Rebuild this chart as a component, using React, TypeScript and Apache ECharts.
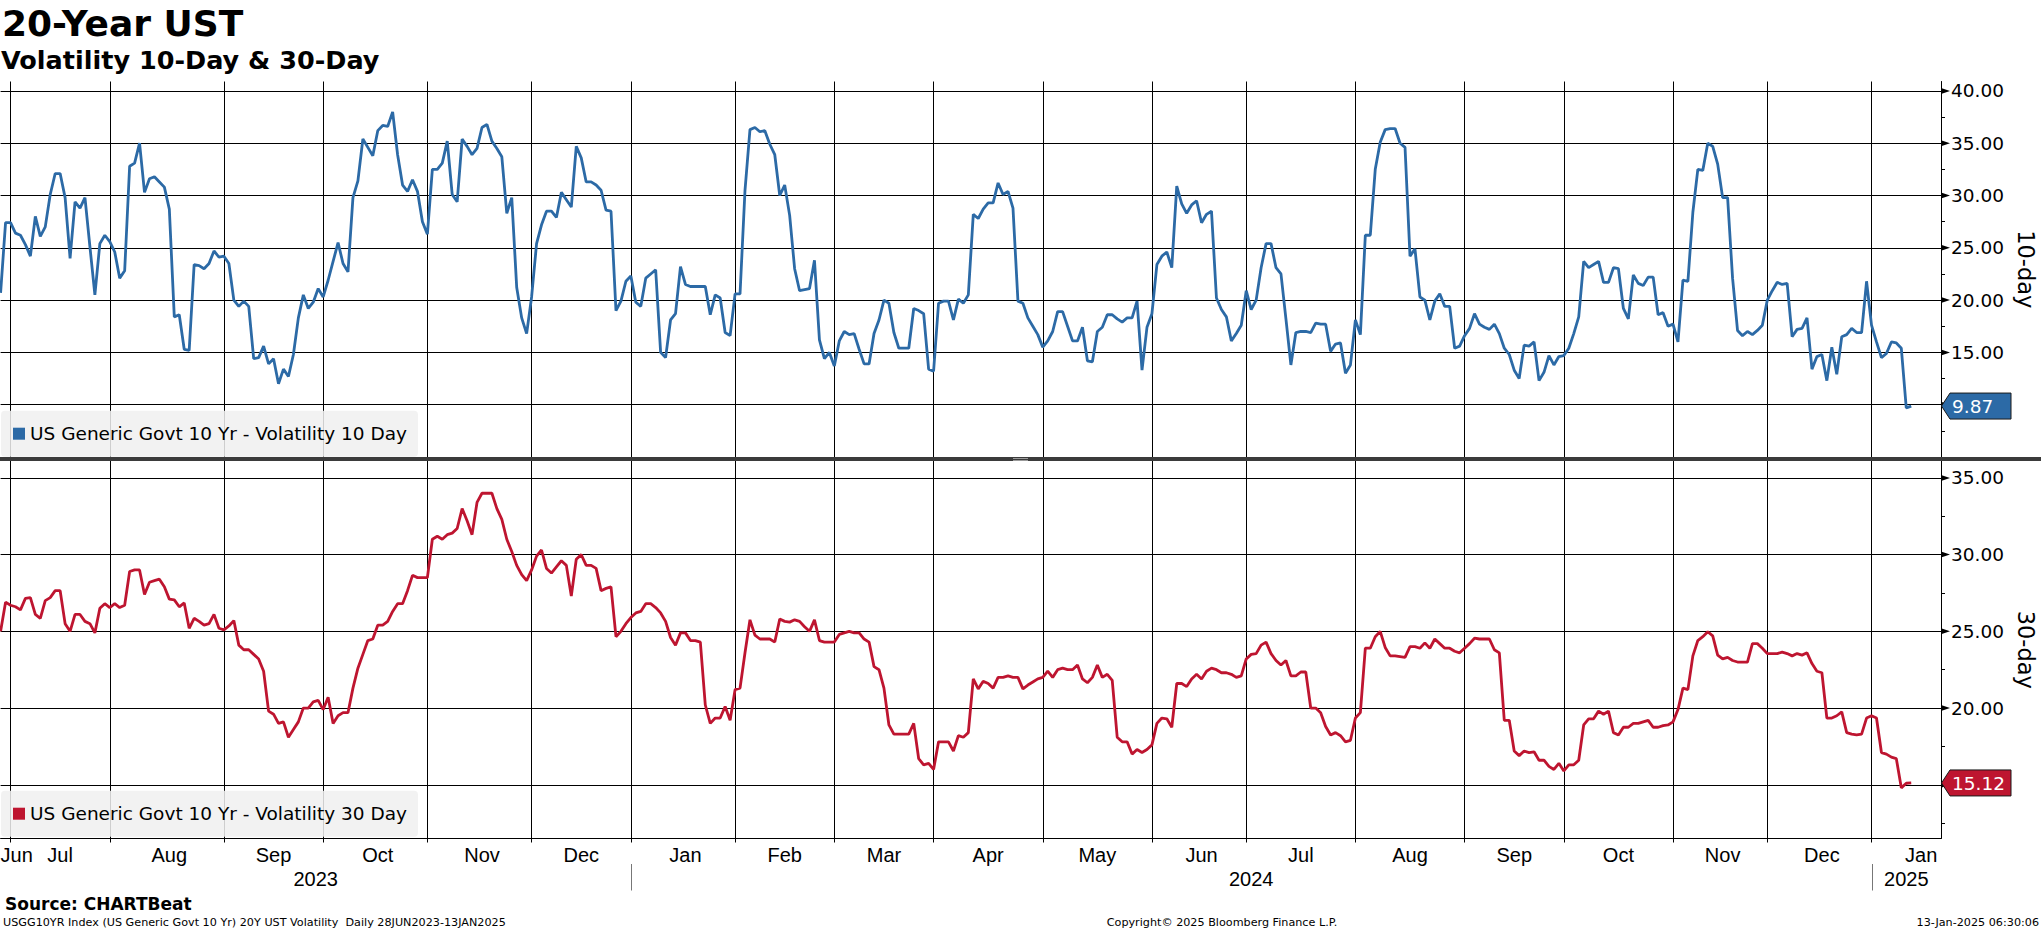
import React, { useEffect, useRef } from "react";
import * as echarts from "echarts";

const NAME_10 = "US Generic Govt 10 Yr - Volatility 10 Day";
const NAME_30 = "US Generic Govt 10 Yr - Volatility 30 Day";
const START_DATE = "2023-06-28";
const END_DATE = "2025-01-13";
const BOND_HOLIDAYS = [
  "2023-07-04", "2023-09-04", "2023-10-09", "2023-11-23", "2023-12-25",
  "2024-01-01", "2024-01-15", "2024-02-19", "2024-03-29", "2024-05-27",
  "2024-06-19", "2024-07-04", "2024-09-02", "2024-10-14", "2024-11-11",
  "2024-11-28", "2024-12-25", "2025-01-01", "2025-01-20",
];
const EMPTY_DAYS_AFTER_END = 6;
const MONTH_NAMES = ["Jan", "Feb", "Mar", "Apr", "May", "Jun", "Jul", "Aug", "Sep", "Oct", "Nov", "Dec"];
const Y10_MAJOR_TICKS = [10, 15, 20, 25, 30, 35, 40];
const Y30_MAJOR_TICKS = [15, 20, 25, 30, 35];

// 10-day volatility, one value per trading day from 28-Jun-2023
const VOL_10DAY = [
  20.7, 27.4, 27.4, 26.4, 26.2, 25.3, 24.2, 28.0, 26.1, 27.0,
  30.1, 32.1, 32.1, 29.8, 24.0, 29.4, 28.8, 29.8, 25.1, 20.5,
  25.4, 26.2, 25.6, 24.6, 22.1, 22.8, 32.8, 33.1, 35.0, 30.3,
  31.6, 31.8, 31.3, 30.8, 28.7, 18.4, 18.6, 15.3, 15.2, 23.4,
  23.3, 23.0, 23.5, 24.7, 24.1, 24.2, 23.5, 20.0, 19.4, 19.9,
  19.4, 14.4, 14.5, 15.6, 13.9, 14.4, 12.0, 13.4, 12.7, 14.8,
  18.3, 20.5, 19.2, 19.8, 21.1, 20.3, 21.9, 23.7, 25.5, 23.5,
  22.7, 29.8, 31.4, 35.4, 34.6, 33.8, 36.2, 36.7, 36.6, 38.0,
  33.9, 31.0, 30.4, 31.5, 30.4, 27.5, 26.3, 32.5, 32.5, 33.1,
  35.2, 30.1, 29.4, 35.4, 34.7, 33.9, 34.5, 36.5, 36.8, 35.2,
  34.5, 33.7, 28.3, 29.8, 21.2, 18.3, 16.8, 20.3, 25.4, 27.2,
  28.5, 28.5, 27.9, 30.3, 29.6, 28.9, 34.7, 33.6, 31.3, 31.3,
  31.0, 30.5, 28.6, 28.5, 19.0, 19.9, 21.8, 22.3, 19.8, 19.4,
  22.1, 22.5, 22.9, 15.0, 14.5, 18.1, 18.7, 23.2, 21.5, 21.3,
  21.3, 21.3, 21.3, 18.6, 20.5, 20.2, 16.9, 16.6, 20.6, 20.6,
  30.5, 36.3, 36.5, 36.1, 36.2, 34.9, 33.9, 30.0, 31.0, 28.1,
  23.0, 20.9, 21.0, 21.1, 23.8, 16.2, 14.4, 15.0, 13.7, 16.1,
  17.0, 16.7, 16.8, 15.3, 13.9, 13.9, 16.8, 18.1, 20.0, 19.7,
  16.9, 15.4, 15.4, 15.4, 19.2, 19.0, 18.7, 13.4, 13.2, 19.7,
  19.9, 19.9, 18.1, 20.1, 19.7, 20.5, 28.2, 27.8, 28.7, 29.3,
  29.3, 31.2, 30.1, 30.4, 28.8, 19.9, 19.7, 18.3, 17.5, 16.7,
  15.5, 16.1, 17.0, 18.9, 18.9, 17.5, 16.1, 16.1, 17.4, 14.2,
  14.1, 17.0, 17.4, 18.6, 18.6, 18.2, 17.9, 18.3, 18.3, 19.9,
  13.3, 17.4, 18.7, 23.4, 24.2, 24.6, 23.1, 30.9, 29.2, 28.3,
  29.1, 29.5, 27.4, 28.2, 28.5, 20.2, 19.1, 18.4, 16.1, 16.8,
  17.6, 20.9, 19.1, 20.0, 23.1, 25.4, 25.4, 23.1, 22.5, 18.2,
  13.8, 16.9, 17.0, 17.0, 16.9, 17.8, 17.7, 17.7, 15.1, 15.8,
  15.9, 13.0, 13.8, 18.1, 16.7, 26.2, 26.2, 32.5, 35.1, 36.3,
  36.4, 36.4, 35.0, 34.6, 24.2, 24.9, 20.3, 20.0, 18.1, 19.9,
  20.6, 19.4, 19.4, 15.4, 15.6, 16.6, 17.3, 18.7, 17.7, 17.4,
  17.2, 17.7, 16.8, 15.4, 14.8, 13.3, 12.5, 15.7, 15.6, 16.0,
  12.3, 13.1, 14.7, 13.8, 14.6, 14.7, 15.4, 16.8, 18.4, 23.7,
  23.1, 23.4, 23.7, 21.7, 21.7, 23.1, 23.0, 19.2, 18.2, 22.4,
  21.6, 21.4, 22.2, 22.2, 18.6, 18.8, 17.5, 17.7, 16.0, 21.9,
  21.8, 28.4, 32.5, 32.4, 35.0, 34.7, 33.0, 29.8, 29.8, 22.1,
  17.1, 16.6, 17.0, 16.7, 17.1, 17.6, 20.0, 20.9, 21.7, 21.5,
  21.6, 16.5, 17.2, 17.3, 18.3, 13.4, 14.6, 14.8, 12.3, 15.5,
  12.9, 16.5, 16.7, 17.3, 16.9, 16.9, 21.8, 17.6, 16.0, 14.5,
  14.9, 16.0, 15.9, 15.4, 9.7, 9.87,
];

// 30-day volatility, one value per trading day from 28-Jun-2023
const VOL_30DAY = [
  25.0, 26.9, 26.7, 26.6, 26.4, 27.15, 27.2, 26.1, 25.85, 27.0,
  27.2, 27.65, 27.65, 25.5, 25.0, 26.1, 26.1, 25.65, 25.5, 24.9,
  26.5, 26.8, 26.55, 26.8, 26.55, 26.7, 28.9, 29.0, 29.0, 27.4,
  28.2, 28.3, 28.4, 27.9, 27.1, 27.05, 26.6, 26.85, 25.2, 25.85,
  25.65, 25.4, 25.5, 26.1, 25.2, 25.1, 25.35, 25.7, 24.1, 23.8,
  23.8, 23.5, 23.2, 22.4, 19.8, 19.6, 19.0, 19.1, 18.1, 18.6,
  19.1, 20.0, 20.0, 20.4, 20.5, 19.9, 20.7, 19.0, 19.5, 19.7,
  19.7, 21.3, 22.6, 23.5, 24.4, 24.5, 25.4, 25.4, 25.65, 26.3,
  26.8, 26.8, 27.65, 28.65, 28.5, 28.5, 28.5, 31.0, 31.2, 31.0,
  31.3, 31.4, 31.7, 33.0, 32.2, 31.3, 33.4, 34.0, 34.0, 34.0,
  33.0, 32.3, 31.0, 30.2, 29.3, 28.7, 28.3, 29.0, 29.9, 30.3,
  29.1, 28.8, 29.2, 29.6, 29.3, 27.3, 29.7, 30.0, 29.3, 29.3,
  29.1, 27.65, 27.8, 27.9, 24.65, 25.0, 25.5, 25.9, 26.2, 26.3,
  26.8, 26.8, 26.55, 26.2, 25.65, 24.6, 24.1, 24.9, 24.9, 24.4,
  24.4, 24.3, 20.2, 19.0, 19.35, 19.35, 20.1, 19.2, 21.2, 21.3,
  23.6, 25.75, 24.75, 24.5, 24.5, 24.5, 24.3, 25.8, 25.65, 25.6,
  25.75, 25.65, 25.3, 25.0, 25.75, 24.4, 24.3, 24.3, 24.3, 24.8,
  24.9, 25.0, 24.9, 24.9, 24.5, 24.3, 22.7, 22.5, 21.3, 18.9,
  18.3, 18.3, 18.3, 18.3, 19.0, 16.7, 16.3, 16.4, 16.0, 17.8,
  17.8, 17.8, 17.2, 18.2, 18.1, 18.4, 21.9, 21.25, 21.75, 21.6,
  21.3, 22.0, 22.0, 22.1, 22.0, 22.0, 21.25, 21.5, 21.7, 21.9,
  22.0, 22.4, 22.0, 22.5, 22.6, 22.5, 22.5, 22.8, 21.9, 21.65,
  22.0, 22.8, 22.0, 22.2, 21.8, 18.1, 17.8, 17.8, 17.0, 17.3,
  17.1, 17.3, 17.6, 19.0, 19.35, 19.3, 18.75, 21.6, 21.6, 21.4,
  21.9, 22.2, 21.9, 22.4, 22.6, 22.5, 22.3, 22.3, 22.2, 22.0,
  22.1, 23.2, 23.5, 23.55, 24.1, 24.3, 23.55, 23.1, 22.8, 23.1,
  22.1, 22.1, 22.35, 22.35, 20.0, 20.0, 19.7, 18.8, 18.25, 18.4,
  18.2, 17.8, 17.9, 19.35, 19.7, 23.9, 23.9, 24.65, 25.0, 23.95,
  23.4, 23.4, 23.35, 23.3, 24.0, 24.0, 23.9, 24.25, 23.9, 24.5,
  24.2, 23.9, 23.9, 23.7, 23.6, 23.9, 24.2, 24.55, 24.5, 24.5,
  24.5, 23.8, 23.6, 19.2, 19.2, 17.2, 16.9, 17.2, 17.1, 17.15,
  16.6, 16.6, 16.2, 16.0, 16.4, 15.9, 16.3, 16.3, 16.6, 18.9,
  19.3, 19.3, 19.8, 19.6, 19.8, 18.4, 18.25, 18.75, 18.75, 19.0,
  19.0, 19.1, 19.2, 18.75, 18.75, 18.85, 18.9, 19.1, 19.9, 21.3,
  21.2, 23.4, 24.4, 24.65, 24.97, 24.7, 23.45, 23.2, 23.3, 23.1,
  23.0, 23.0, 23.0, 24.2, 24.2, 23.9, 23.55, 23.55, 23.55, 23.65,
  23.55, 23.4, 23.55, 23.45, 23.6, 22.9, 22.4, 22.3, 19.35, 19.35,
  19.5, 19.75, 18.4, 18.3, 18.25, 18.3, 19.35, 19.5, 19.35, 17.1,
  17.0, 16.8, 16.7, 14.8, 15.1, 15.12,
];

const BLUE = "#2c6aa6";
const RED = "#be1530";
const FONT = "'DejaVu Sans', Verdana, sans-serif";
const AXIS_FONT = "'Liberation Sans', Arial, sans-serif";

function buildDates(): string[] {
  const out: string[] = [];
  const d = new Date(START_DATE + "T00:00:00Z");
  let pad = 0;
  for (let guard = 0; guard < 2000; guard++) {
    const s = d.toISOString().slice(0, 10);
    const wd = d.getUTCDay();
    if (wd !== 0 && wd !== 6 && !BOND_HOLIDAYS.includes(s)) {
      if (s <= END_DATE) out.push(s);
      else {
        out.push(s);
        pad++;
        if (pad >= EMPTY_DAYS_AFTER_END) break;
      }
    }
    d.setUTCDate(d.getUTCDate() + 1);
  }
  return out;
}

const month = (s: string) => s.slice(0, 7);

export default function App() {
  const ref = useRef<HTMLDivElement>(null);

  useEffect(() => {
    if (!ref.current) return;
    const chart = echarts.init(ref.current, undefined, { renderer: "svg" });
    const dates = buildDates();
    const lastIdx = dates.length - 1;
    const last10 = VOL_10DAY[VOL_10DAY.length - 1];
    const last30 = VOL_30DAY[VOL_30DAY.length - 1];

    // month boundaries: last trading day of each month
    const monthEnds: number[] = [];
    for (let i = 0; i < lastIdx; i++) {
      if (month(dates[i]) !== month(dates[i + 1])) monthEnds.push(i);
    }
    const monthEndSet = new Set(monthEnds);
    const bounds = [0, ...monthEnds, lastIdx];
    const labelMap = new Map<number, string>();
    for (let k = 0; k < bounds.length - 1; k++) {
      const a = bounds[k];
      const b = bounds[k + 1];
      const di = k === 0 ? 0 : a + 1;
      const name = MONTH_NAMES[parseInt(dates[di].slice(5, 7), 10) - 1];
      let idx = Math.round((a + b) / 2);
      if (k === 0) idx = 0;
      if (k === bounds.length - 2) idx = b - 4;
      labelMap.set(idx, name);
    }
    const yearEnds = monthEnds.filter((i) => dates[i].slice(0, 4) !== dates[i + 1].slice(0, 4));

    const xBase = (gridIndex: number, lower: boolean) => ({
      type: "category",
      gridIndex,
      data: dates,
      boundaryGap: false,
      axisLine: { show: lower, onZero: false, lineStyle: { color: "#000", width: 1 } },
      axisTick: {
        show: lower,
        interval: (i: number) => monthEndSet.has(i),
        length: 4,
        lineStyle: { color: "#000", width: 1 },
      },
      axisLabel: {
        show: lower,
        interval: (i: number) => labelMap.has(i),
        formatter: (_v: string, i: number) => labelMap.get(i) || "",
        color: "#000",
        fontFamily: AXIS_FONT,
        fontSize: 20,
        margin: 6,
        alignMinLabel: "left",
        hideOverlap: false,
      },
      splitLine: {
        show: true,
        interval: (i: number) => monthEndSet.has(i),
        lineStyle: { color: "#000", width: 1 },
      },
    });

    // labels hidden behind the last-value tag (the tag covers them in the reference)
    const yBase = (
      gridIndex: number, min: number, max: number, splitNumber: number, name: string,
      lastValue: number, hideWithin: number,
    ) => ({
      type: "value",
      gridIndex,
      position: "right",
      min,
      max,
      splitNumber,
      axisLine: { show: true, lineStyle: { color: "#000", width: 1 } },
      axisTick: { show: false },
      minorTick: { show: true, splitNumber: 2, length: 4, lineStyle: { color: "#000", width: 1 } },
      minorSplitLine: { show: false },
      axisLabel: {
        show: true,
        margin: 10,
        color: "#000",
        fontFamily: FONT,
        fontSize: 18.5,
        formatter: (v: number) => (Math.abs(v - lastValue) < hideWithin ? "" : v.toFixed(2)),
        showMinLabel: false,
        showMaxLabel: false,
      },
      splitLine: { show: true, showMinLine: false, showMaxLine: false, lineStyle: { color: "#000", width: 1 } },
      name,
      nameLocation: "middle",
      nameRotate: -90,
      nameGap: 70,
      nameTextStyle: { fontFamily: FONT, fontSize: 22.5, color: "#000" },
    });

    const legendBase = (name: string, top: number) => ({
      data: [name],
      left: 1,
      top,
      orient: "horizontal",
      padding: [12, 11, 12, 12],
      itemWidth: 12,
      itemHeight: 12,
      itemGap: 0,
      icon: "rect",
      selectedMode: false,
      backgroundColor: "rgba(240,240,240,0.86)",
      borderRadius: 4,
      itemStyle: { borderWidth: 0 },
      textStyle: { fontFamily: FONT, fontSize: 18.5, color: "#000", lineHeight: 22 },
    });

    chart.setOption({
      animation: false,
      backgroundColor: "#ffffff",
      grid: [
        { left: 0.6, right: 100, top: 81.5, height: 375.5, containLabel: false, outerBoundsMode: "none" },
        { left: 0.6, right: 100, top: 461, height: 377.5, containLabel: false, outerBoundsMode: "none" },
      ],
      xAxis: [xBase(0, false), xBase(1, true)],
      yAxis: [
        yBase(0, 5, 40.9, 7, "10-day", last10, 1.9),
        yBase(1, 11.5, 36.1, 5, "30-day", last30, 1.3),
      ],
      legend: [legendBase(NAME_10, 410.7), legendBase(NAME_30, 790.7)],
      series: [
        {
          type: "line",
          name: NAME_10,
          xAxisIndex: 0,
          yAxisIndex: 0,
          data: VOL_10DAY,
          symbol: "none",
          showSymbol: false,
          silent: true,
          lineStyle: { color: BLUE, width: 2.8 },
          itemStyle: { color: BLUE },
        },
        {
          type: "line",
          name: NAME_30,
          xAxisIndex: 1,
          yAxisIndex: 1,
          data: VOL_30DAY,
          symbol: "none",
          showSymbol: false,
          silent: true,
          lineStyle: { color: RED, width: 2.8 },
          itemStyle: { color: RED },
        },
      ],
    });

    const px = (i: number) => chart.convertToPixel({ xAxisIndex: 1 }, dates[i]) as number;
    const xRight = px(lastIdx);
    const xLeft = px(0);

    const graphics: any[] = [];
    // titles
    graphics.push({
      type: "text", x: 2, y: 23.5, z: 50,
      style: { text: "20-Year UST", fill: "#000", fontFamily: FONT, fontWeight: "bold", fontSize: 36, align: "left", verticalAlign: "middle" },
    });
    graphics.push({
      type: "text", x: 1, y: 59.5, z: 50,
      style: { text: "Volatility 10-Day & 30-Day", fill: "#000", fontFamily: FONT, fontWeight: "bold", fontSize: 25.5, align: "left", verticalAlign: "middle" },
    });
    // panel separator
    graphics.push({ type: "rect", z: 60, shape: { x: 0, y: 457, width: 2041, height: 4 }, style: { fill: "#3b3b3b" } });
    graphics.push({ type: "rect", z: 61, shape: { x: 1013, y: 458, width: 15, height: 1 }, style: { fill: "#9a9a9a" } });
    graphics.push({ type: "rect", z: 61, shape: { x: 1013, y: 460, width: 15, height: 1 }, style: { fill: "#9a9a9a" } });

    // arrow-shaped major ticks on the right axes
    const arrowTicks = (yAxisIndex: number, ticks: number[]) => {
      ticks.forEach((v) => {
        const y = chart.convertToPixel({ yAxisIndex }, v) as number;
        graphics.push({
          type: "polygon", z: 40,
          shape: { points: [[xRight, y - 3], [xRight + 9, y], [xRight, y + 3]] },
          style: { fill: "#000" },
        });
      });
    };
    arrowTicks(0, Y10_MAJOR_TICKS);
    arrowTicks(1, Y30_MAJOR_TICKS);

    // year row
    const yBounds = [xLeft, ...yearEnds.map(px), xRight];
    for (let k = 0; k < yBounds.length - 1; k++) {
      const idx = k === 0 ? 0 : yearEnds[k - 1] + 1;
      graphics.push({
        type: "text", x: (yBounds[k] + yBounds[k + 1]) / 2, y: 879, z: 50,
        style: { text: dates[idx].slice(0, 4), fill: "#000", fontFamily: AXIS_FONT, fontSize: 20, align: "center", verticalAlign: "middle" },
      });
    }
    yearEnds.forEach((i) => {
      const x = Math.round(px(i)) + 0.5;
      graphics.push({ type: "line", z: 50, shape: { x1: x, y1: 864, x2: x, y2: 890.5 }, style: { stroke: "#777", lineWidth: 1 } });
    });

    // last value tags
    const tag = (yAxisIndex: number, value: number, color: string) => {
      const y = chart.convertToPixel({ yAxisIndex }, value) as number;
      graphics.push({
        type: "polygon", z: 70,
        shape: { points: [[xRight + 0.5, y], [xRight + 9, y - 13], [xRight + 70, y - 13], [xRight + 70, y + 13], [xRight + 9, y + 13]] },
        style: { fill: color, stroke: "#1a1a1a", lineWidth: 1 },
      });
      graphics.push({
        type: "text", x: xRight + 11, y: y + 0.5, z: 71,
        style: { text: value.toFixed(2), fill: "#fff", fontFamily: FONT, fontSize: 18.5, align: "left", verticalAlign: "middle" },
      });
    };
    tag(0, last10, BLUE);
    tag(1, last30, RED);

    // footer
    graphics.push({
      type: "text", x: 5, y: 904, z: 50,
      style: { text: "Source: CHARTBeat", fill: "#000", fontFamily: FONT, fontWeight: "bold", fontSize: 17, align: "left", verticalAlign: "middle" },
    });
    graphics.push({
      type: "text", x: 3, y: 922.5, z: 50,
      style: { text: "USGG10YR Index (US Generic Govt 10 Yr) 20Y UST Volatility  Daily 28JUN2023-13JAN2025", fill: "#000", fontFamily: FONT, fontSize: 11.2, align: "left", verticalAlign: "middle" },
    });
    graphics.push({
      type: "text", x: 1222, y: 922.5, z: 50,
      style: { text: "Copyright\u00A9 2025 Bloomberg Finance L.P.", fill: "#000", fontFamily: FONT, fontSize: 11.2, align: "center", verticalAlign: "middle" },
    });
    graphics.push({
      type: "text", x: 2039, y: 922.5, z: 50,
      style: { text: "13-Jan-2025 06:30:06", fill: "#000", fontFamily: FONT, fontSize: 11.2, align: "right", verticalAlign: "middle" },
    });

    chart.setOption({ graphic: graphics });

    return () => chart.dispose();
  }, []);

  return (
    <div
      ref={ref}
      style={{ position: "fixed", left: 0, top: 0, width: 2041, height: 932, background: "#fff" }}
    />
  );
}
